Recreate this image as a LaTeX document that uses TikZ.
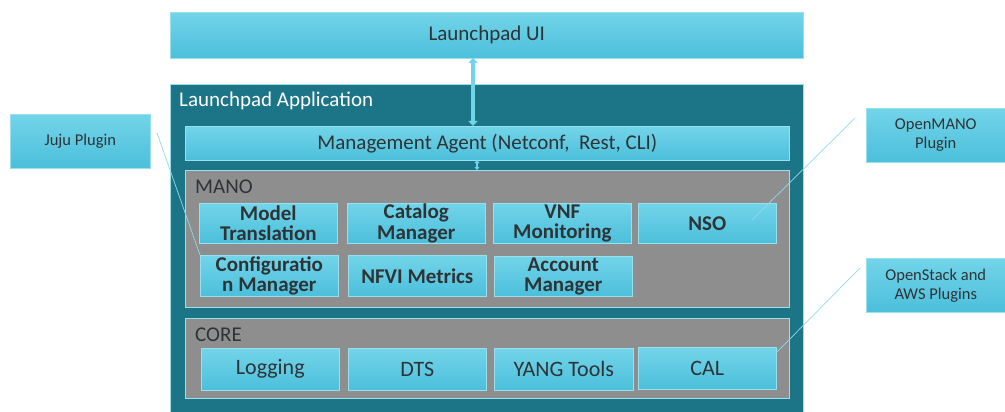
\documentclass[tikz,border=0pt]{standalone}
\usepackage{fontspec}
\setmainfont{Carlito}
\usetikzlibrary{arrows.meta}
\definecolor{lbtop}{HTML}{72D4E9}
\definecolor{lbbot}{HTML}{4CBFDB}
\definecolor{lbedge}{HTML}{9ADFEE}
\definecolor{teal}{HTML}{1C7587}
\definecolor{graybox}{HTML}{8E8E8E}
\definecolor{txt}{HTML}{2E3436}
\definecolor{conn}{HTML}{8FDAEA}
\begin{document}
\begin{tikzpicture}[x=1pt,y=-1pt,
  bluebox/.style={top color=lbtop,bottom color=lbbot,draw=lbedge,line width=0.6pt,inner sep=0pt,anchor=north west,text=txt,align=center},
  comp/.style={bluebox,minimum width=138pt,minimum height=40pt,font=\fontsize{21}{20.5}\selectfont\bfseries},
  corecomp/.style={bluebox,minimum width=138pt,minimum height=42pt,font=\fontsize{22}{24}\selectfont},
  plugin/.style={bluebox,minimum width=140pt,minimum height=54pt,font=\fontsize{16.5}{19}\selectfont},
  graypanel/.style={fill=graybox,draw=lbedge,line width=0.6pt,inner sep=0pt,anchor=north west},
  connector/.style={draw=conn,line width=0.7pt},
  bigarrow/.style={draw=lbtop,line width=4pt,{Triangle[width=9pt,length=5pt]}-{Triangle[width=9pt,length=5pt]}},
  smallarrow/.style={draw=lbtop,line width=2pt,{Triangle[width=5pt,length=3pt]}-{Triangle[width=5pt,length=3pt]}}
]
\useasboundingbox (0,0) rectangle (1005,412);
% top UI
\node[bluebox,minimum width=633pt,minimum height=46pt,font=\fontsize{21}{23}\selectfont] (ui) at (170,12) {Launchpad UI};
% application container
\node[fill=teal,draw=lbedge,line width=0.5pt,inner sep=0pt,anchor=north west,minimum width=633pt,minimum height=330pt] (app) at (170,84) {};
\node[anchor=west,text=white,font=\fontsize{21}{23}\selectfont,inner sep=0pt] (applabel) at (179,101) {Launchpad Application};
% management agent
\node[bluebox,minimum width=604pt,minimum height=34pt,font=\fontsize{21}{23}\selectfont] (agent) at (185,126) {Management Agent (Netconf,~ Rest, CLI)};
% MANO panel
\node[graypanel,minimum width=604pt,minimum height=137pt] (mano) at (185,170) {};
\node[anchor=west,text=txt,font=\fontsize{21}{23}\selectfont,inner sep=0pt] (manolabel) at (195,187) {MANO};
\node[comp] (model) at (199,203) {Model\\Translation};
\node[comp] (catalog) at (347,203) {Catalog\\Manager};
\node[comp] (vnf) at (493,203) {VNF\\Monitoring};
\node[comp] (nso) at (638,203) {NSO};
\node[comp,minimum height=41pt] (conf) at (200,255) {Configuratio\\n Manager};
\node[comp,minimum height=41pt] (nfvi) at (348,255) {NFVI Metrics};
\node[comp,minimum height=40pt] (account) at (494,256) {Account\\Manager};
% CORE panel
\node[graypanel,minimum width=604pt,minimum height=80pt] (core) at (185,318) {};
\node[anchor=west,text=txt,font=\fontsize{21}{23}\selectfont,inner sep=0pt] (corelabel) at (195,335) {CORE};
\node[corecomp] (logging) at (201,348) {Logging};
\node[corecomp] (dts) at (348,348) {DTS};
\node[corecomp,minimum width=139pt] (yang) at (494,348) {YANG Tools};
\node[corecomp] (cal) at (638,347) {CAL};
% plugins
\node[plugin] (juju) at (10,114) {Juju Plugin};
\node[plugin,minimum width=139pt] (openmano) at (866,108) {OpenMANO\\Plugin};
\node[plugin,minimum width=139pt] (openstack) at (866,258) {OpenStack and\\AWS Plugins};
% arrows
\coordinate (uiarr) at (473,58);
\coordinate (agarr) at (473,126);
\draw[bigarrow] (uiarr) -- (agarr);
\coordinate (agbot) at (477,160);
\coordinate (manotop) at (477,170);
\draw[smallarrow] (agbot) -- (manotop);
% connectors
\coordinate (j1) at (157,133);
\coordinate (j2) at (200,255);
\draw[connector] (j1) -- (j2);
\coordinate (o1) at (855,118);
\coordinate (o2) at (752,220);
\draw[connector] (o1) -- (o2);
\coordinate (s1) at (860,268);
\coordinate (s2) at (776,353);
\draw[connector] (s1) -- (s2);
\end{tikzpicture}
\end{document}
